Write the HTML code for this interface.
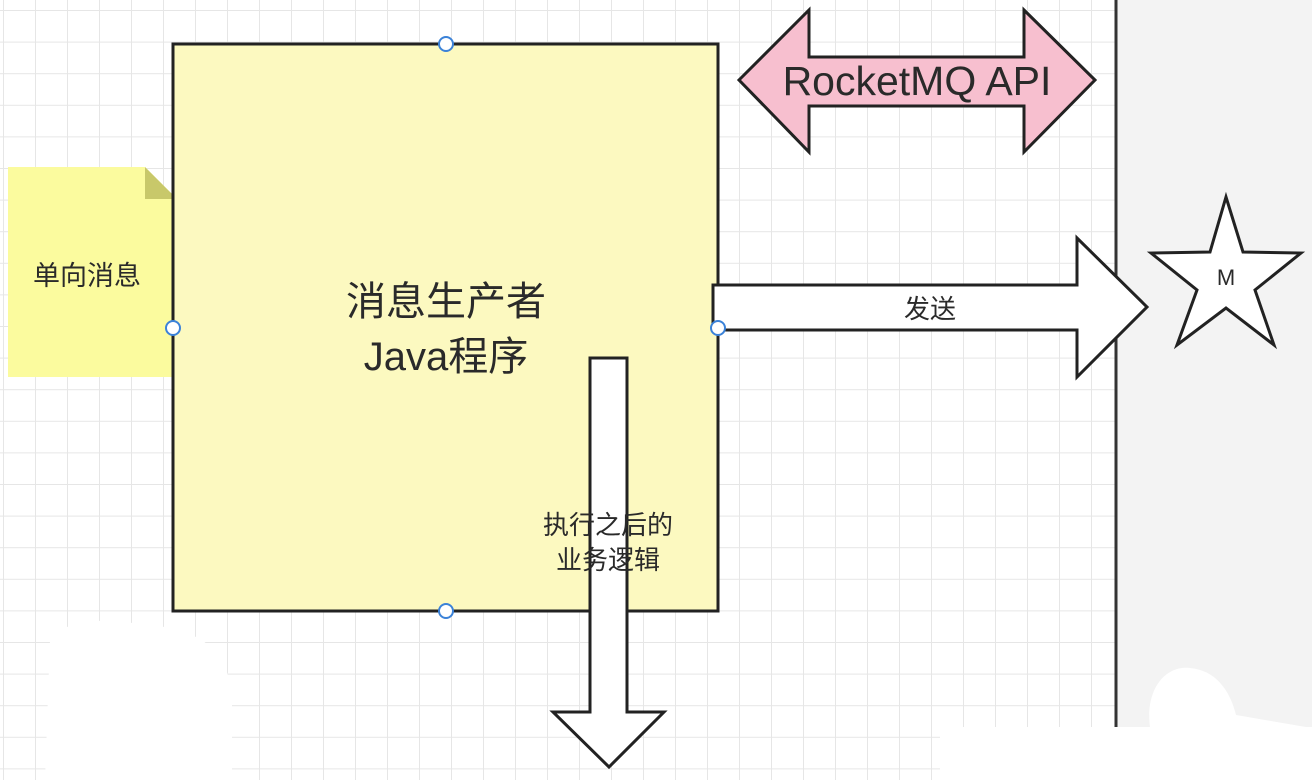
<!DOCTYPE html>
<html><head><meta charset="utf-8"><style>
html,body{margin:0;padding:0;width:1312px;height:780px;overflow:hidden;background:#fff}
svg text{font-family:"Liberation Sans","Noto Sans CJK SC",sans-serif;fill:#2a2a2a}
</style></head><body>
<svg width="1312" height="780" viewBox="0 0 1312 780" xmlns="http://www.w3.org/2000/svg">
<defs>
<pattern id="g" x="3" y="10" width="32" height="31.6" patternUnits="userSpaceOnUse">
<path d="M0 0V32M0 0H32" stroke="#e6e6e6" stroke-width="2" fill="none"/>
</pattern>
</defs>
<rect x="0" y="0" width="1116" height="780" fill="url(#g)"/>
<rect x="1116" y="0" width="196" height="780" fill="#f3f3f3"/>
<line x1="1116" y1="0" x2="1116" y2="727" stroke="#333" stroke-width="3"/>
<rect x="940" y="727" width="372" height="53" fill="#fff"/>
<path d="M1150 727 C1145 690 1165 665 1190 668 C1215 670 1230 690 1236 715 L1312 728 Z" fill="#fff"/>
<path d="M45 780 L50 640 C70 615 110 620 150 625 C200 630 230 650 232 700 L232 780 Z" fill="#fff"/>
<polygon points="8,167 145,167 177,199 177,377 8,377" fill="#fbfb9e"/>
<polygon points="145,167 177,199 145,199" fill="#c8c86a"/>
<rect x="173" y="44" width="545" height="567" fill="#fcf9c0" stroke="#222" stroke-width="3"/>
<text x="446" y="315" font-size="40" text-anchor="middle">消息生产者</text>
<text x="446" y="370" font-size="40" text-anchor="middle">Java程序</text>
<text x="33" y="285" font-size="27">单向消息</text>
<polygon points="739,80 809,10 809,57 1024,57 1024,10 1095,80 1024,152 1024,106 809,106 809,152" fill="#f7bfcf" stroke="#222" stroke-width="3"/>
<text x="917" y="95" font-size="41" text-anchor="middle">RocketMQ API</text>
<polygon points="713,285 1077,285 1077,238 1147,307 1077,377 1077,330 713,330" fill="#fff" stroke="#222" stroke-width="3"/>
<text x="930" y="318" font-size="26" text-anchor="middle">发送</text>
<polygon points="1226,197 1243,252 1301,253 1255,290 1274,345 1226,308 1177,345 1197,290 1151,253 1210,252" fill="#fff" stroke="#222" stroke-width="3"/>
<text x="1226" y="285" font-size="22" text-anchor="middle">M</text>
<polygon points="590,358 627,358 627,712 664,712 609,767 553,712 590,712" fill="#fff" stroke="#222" stroke-width="3"/>
<text x="608" y="534" font-size="26" text-anchor="middle">执行之后的</text>
<text x="608" y="569" font-size="26" text-anchor="middle">业务逻辑</text>
<g fill="#fff" stroke="#3b82d8" stroke-width="2">
<circle cx="446" cy="44" r="7"/><circle cx="173" cy="328" r="7"/><circle cx="718" cy="328" r="7"/><circle cx="446" cy="611" r="7"/>
</g>
</svg>
</body></html>
